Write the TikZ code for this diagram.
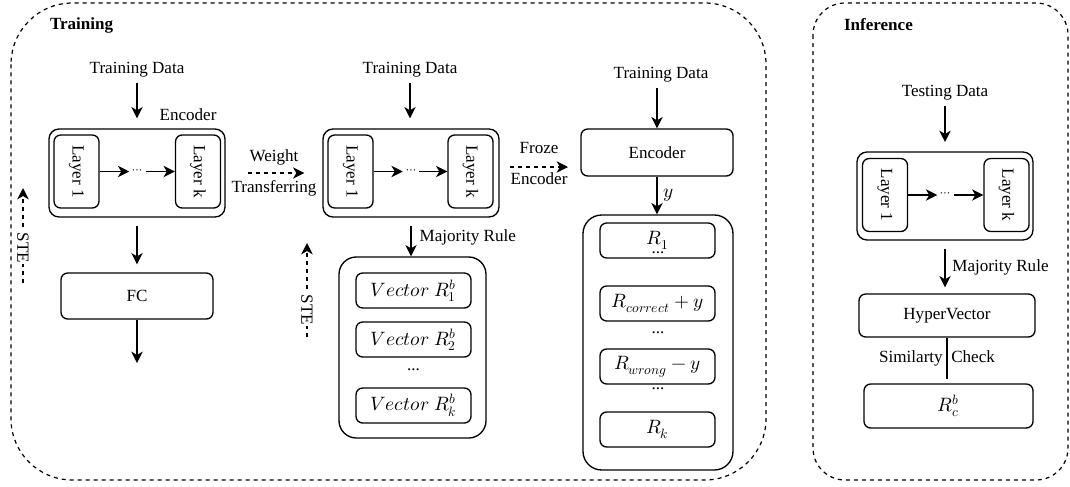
\documentclass[tikz,border=0pt]{standalone}
\usepackage{fontspec}
\usepackage{unicode-math}
\setmainfont{Liberation Serif}
\setmathfont{Latin Modern Math}
\usetikzlibrary{arrows.meta}

\begin{document}
\begin{tikzpicture}[x=0.75pt, y=-0.75pt, line width=1pt,
    txt/.style={font=\fontsize{12.8}{15}\selectfont, inner sep=1pt},
    head/.style={font=\fontsize{12.8}{15}\selectfont\bfseries, inner sep=1pt, anchor=west},
    box/.style={draw, rounded corners=5pt, inner sep=0pt, txt},
    rbox/.style={box, font=\fontsize{14.5}{16}\selectfont, minimum width=86.25pt, minimum height=26.25pt},
    layerbox/.style={box, rotate=-90, minimum width=54.75pt, minimum height=33.75pt},
    holder/.style={draw, rounded corners=7.5pt, minimum width=132pt, minimum height=66pt},
    arr/.style={-{Stealth[length=8.5pt, width=8.5pt, inset=2.5pt]}},
    dasharr/.style={arr, dash pattern=on 3pt off 3pt},
    frame/.style={dash pattern=on 3pt off 3pt, line width=0.9pt},
    dots/.style={font=\fontsize{9.5}{10}\selectfont, inner sep=2pt}]
  \useasboundingbox (0,0) rectangle (1070,486);

  % training part
  \draw[frame, rounded corners=46pt] (11,3) rectangle (766,480);
  \node[head] (trn) at (48,25) {Training};

  % first encoder + FC
  \node[txt] (td1) at (137,70) {Training Data};
  \node[holder] (enc1) at (137,173) {};
  \node[txt] (enc1lbl) at (188,115) {Encoder};
  \node[layerbox] (l1a) at (76.5,171.5) {Layer 1};
  \node[layerbox] (lka) at (198,171.5) {Layer k};
  \node[dots] (dt1) at (137.5,171.5) {$\cdots$};
  \draw[arr] (l1a.north) -- (dt1.west);
  \draw[arr] (dt1.east) -- (lka.south);
  \draw[arr, shorten <=3pt, shorten >=7.5pt] (td1) -- (td1 |- enc1.north);
  \node[box, minimum width=114pt, minimum height=34.5pt] (fc) at (137,296) {FC};
  \draw[arr, shorten <=6pt, shorten >=6pt] (enc1) -- (fc);
  \coordinate (fcout) at (137,363);
  \draw[arr] (fc) -- (fcout);
  \coordinate (ste1a) at (23,283);
  \coordinate (ste1b) at (23,188);
  \draw[dasharr] (ste1a) -- node[txt, pos=0.37, fill=white, rotate=-90] (ste1) {STE} (ste1b);

  % second encoder + vectors
  \node[txt] (td2) at (410,70) {Training Data};
  \node[holder] (enc2) at (411,173) {};
  \node[layerbox] (l1b) at (350.5,171.5) {Layer 1};
  \node[layerbox] (lkb) at (470.5,171.5) {Layer k};
  \node[dots] (dt2) at (411,171.5) {$\cdots$};
  \draw[arr] (l1b.north) -- (dt2.west);
  \draw[arr] (dt2.east) -- (lkb.south);
  \draw[arr, shorten <=3pt, shorten >=7.5pt] (td2) -- (td2 |- enc2.north);
  \draw[dasharr, shorten <=16.5pt, shorten >=13.5pt] (enc1.east) --
    node[txt, yshift=12pt] (wt1) {Weight}
    node[txt, yshift=-11.5pt] (wt2) {Transferring} (enc2.west);
  \node[draw, rounded corners=13pt, minimum width=110.25pt, minimum height=135.75pt] (vecs) at (412.5,347.5) {};
  \draw[arr, shorten <=6pt] (enc2) -- node[txt, anchor=west, xshift=5pt] (mr1) {Majority Rule} (enc2 |- vecs.north);
  \node[rbox] (v1) at (413.5,290.5) {$Vector\ R_1^b$};
  \node[rbox] (v2) at (413.5,339.5) {$Vector\ R_2^b$};
  \node[txt] (vd) at (413.5,370) {...};
  \node[rbox] (vk) at (413.5,405.5) {$Vector\ R_k^b$};
  \coordinate (ste2a) at (307,337);
  \coordinate (ste2b) at (307,243);
  \draw[dasharr] (ste2a) -- node[txt, pos=0.29, fill=white, rotate=-90] (ste2) {STE} (ste2b);

  % frozen encoder + class vectors
  \coordinate (frzA) at (510,167);
  \coordinate (frzB) at (568,167);
  \draw[dasharr] (frzA) -- node[txt, yshift=14pt] (fz1) {Froze}
    node[txt, yshift=-9pt] (fz2) {Encoder} (frzB);
  \node[txt] (td3) at (661,75) {Training Data};
  \node[box, minimum width=114pt, minimum height=35.25pt] (enc3) at (657,152.5) {Encoder};
  \draw[arr, shorten <=3pt] (enc3.north |- td3.south) -- (enc3.north);
  \node[draw, rounded corners=14pt, minimum width=112.5pt, minimum height=191.25pt] (rs) at (658,342.5) {};
  \draw[arr] (enc3) -- node[txt, font=\fontsize{14.5}{16}\selectfont, anchor=west, xshift=3pt] (ylbl) {$y$} (enc3 |- rs.north);
  \node[rbox] (r1) at (657.5,240.5) {$R_1$};
  \node[txt] (rd1) at (658,253) {...};
  \node[rbox] (rc) at (657.5,303.5) {$R_{correct}+y$};
  \node[txt] (rd2) at (658,333) {...};
  \node[rbox] (rw) at (657.5,366.5) {$R_{wrong}-y$};
  \node[txt] (rd3) at (658,389) {...};
  \node[rbox] (rk) at (657.5,429.5) {$R_k$};

  % inference part
  \draw[frame, rounded corners=24pt] (813,3) rectangle (1068,480);
  \node[head] (inf) at (842,25) {Inference};
  \node[txt] (tsd) at (945,93) {Testing Data};
  \node[holder] (enc4) at (945,196) {};
  \node[layerbox] (l1c) at (885,195) {Layer 1};
  \node[layerbox] (lkc) at (1006.5,195) {Layer k};
  \node[dots] (dt4) at (945.5,195) {$\cdots$};
  \draw[arr] (l1c.north) -- (dt4.west);
  \draw[arr] (dt4.east) -- (lkc.south);
  \draw[arr, shorten <=3pt, shorten >=7pt] (tsd) -- (tsd |- enc4.north);
  \node[box, minimum width=132pt, minimum height=32.25pt] (hv) at (947,315.5) {HyperVector};
  \draw[arr, shorten <=6pt, shorten >=4.5pt] (enc4) -- node[txt, anchor=west, xshift=4pt] (mr2) {Majority Rule} (enc4 |- hv.north);
  \node[box, font=\fontsize{14.5}{16}\selectfont, minimum width=126.75pt, minimum height=33pt] (rcb) at (948.5,406) {$R_c^b$};
  \draw[shorten >=3pt] (hv) -- (hv |- rcb.north);
  \node[txt] (sim) at (937,358) {Similarty\ \ Check};
\end{tikzpicture}
\end{document}
